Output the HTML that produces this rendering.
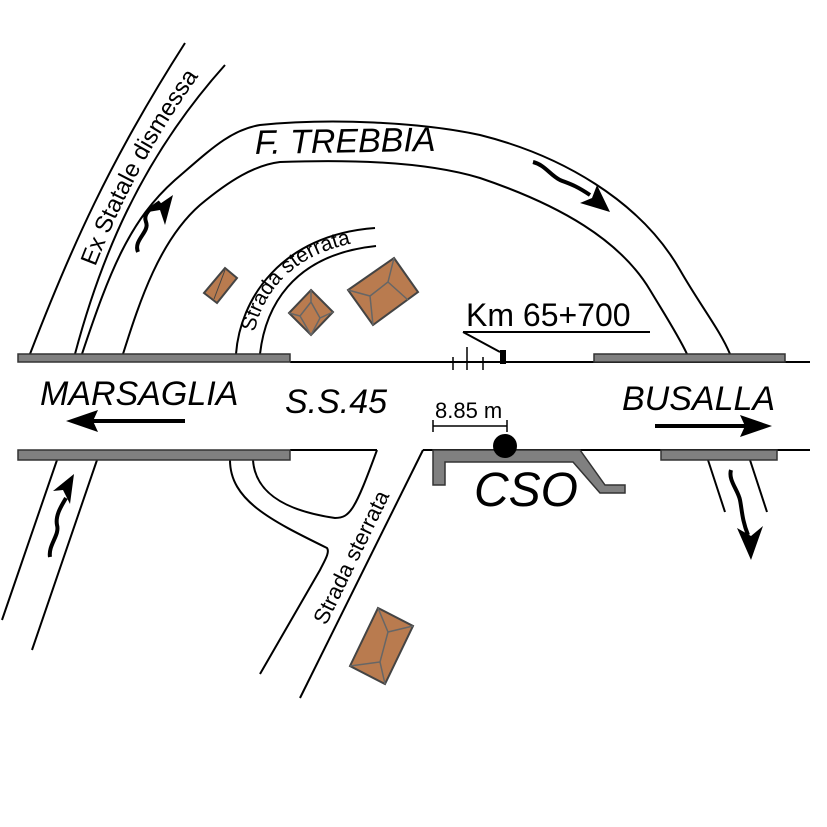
<!DOCTYPE html>
<html><head><meta charset="utf-8"><style>body{margin:0;background:#fff}svg{display:block}</style></head><body>
<svg width="827" height="827" viewBox="0 0 827 827" xmlns="http://www.w3.org/2000/svg" font-family="Liberation Sans, sans-serif">
<defs>
<path id="exs" d="M66,354 C95,255 135,160 212,58"/>
<path id="sst" d="M252,354 C254,300 288,248 376,240"/>
</defs>
<g fill="none" stroke="#000" stroke-width="2">
<path d="M30,354 C70,250 110,160 185,43"/>
<path d="M75,354 C100,260 140,160 225,65"/>
<path d="M82,354 C110,270 130,220 175,180 C210,150 230,130 260,125 C330,118 420,122 480,135 C560,155 640,200 680,270 C700,305 720,330 730,354"/>
<path d="M123,354 C140,300 160,240 200,205 C230,180 255,165 280,162 C340,160 420,160 480,178 C560,205 620,240 650,290 C665,315 678,335 687,354"/>
<path d="M236,354 C240,300 280,235 375,228"/>
<path d="M260,354 C265,310 290,255 376,246"/>
<path d="M290,362 H810"/>
<path d="M290,450 H377 M423,450 H810"/>
<path d="M230,460 C230,500 270,520 327,548 C330,552 325,560 320,570 L260,674"/>
<path d="M253,460 C255,490 280,510 335,518 C350,518 355,510 377,450"/>
<path d="M423,450 L300,698"/>
<path d="M57,460 L2,620"/>
<path d="M97,460 L32,650"/>
<path d="M708,460 L725,512"/>
<path d="M750,460 L767,512"/>
<path d="M463,332 H650 M463,332 L500,352"/>
<path d="M453,357 V370 M467,347 V370 M483,357 V370" stroke-width="1.5"/>
<path d="M433,426 H507 M433,420 V432 M507,420 V432" stroke-width="1.5"/>
</g>
<rect x="500" y="350" width="6" height="14" fill="#000"/>
<g fill="#808080" stroke="#333" stroke-width="1.5">
<rect x="18" y="354" width="272" height="8"/>
<rect x="594" y="354" width="191" height="8"/>
<rect x="18" y="450" width="272" height="10"/>
<rect x="661" y="450" width="116" height="10"/>
<path d="M433,450 H580 L605,485 H625 V493 H600 L573,462 H445 V485 H433 Z"/>
</g>
<circle cx="505" cy="446" r="12" fill="#000"/>
<g fill="#000">
<path d="M185,421 H85" stroke="#000" stroke-width="4"/>
<polygon points="66,421 98,410 93,421 98,432"/>
<path d="M655,426 H750" stroke="#000" stroke-width="4"/>
<polygon points="772,426 740,415 745,426 740,437"/>
<path d="M138,252 C133,240 150,232 146,222 C142,212 155,206 160,202" stroke="#000" stroke-width="4" fill="none"/>
<polygon points="173,195 148,212 160,210 165,225"/>
<path d="M533,162 C545,165 550,175 560,180 C570,184 575,185 590,195" stroke="#000" stroke-width="4" fill="none"/>
<polygon points="610,212 580,203 592,198 597,185"/>
<path d="M50,557 C48,545 60,535 57,525 C55,515 62,505 66,498" stroke="#000" stroke-width="4" fill="none"/>
<polygon points="74,474 53,491 63,490 70,504"/>
<path d="M731,470 C728,480 738,490 740,500 C742,510 742,520 748,535" stroke="#000" stroke-width="4" fill="none"/>
<polygon points="751,560 737,528 751,536 763,526"/>
</g>
<g fill="#b97b4f" stroke="#444" stroke-width="2">
<polygon points="225,268 237,278 217,303 204,293"/>
<line x1="225" y1="270" x2="214" y2="299" stroke-width="1"/>
<polygon points="311,290 333,312 311,335 289,313"/>
<path d="M311,290 L311,302 L320,318 L311,335 M311,302 L300,316 L289,313 M300,316 L311,335 M320,318 L333,312" fill="none" stroke="#666" stroke-width="1.5"/>
<polygon points="394,258 418,292 373,325 348,290"/>
<path d="M394,258 L388,282 L370,296 L348,290 M388,282 L408,300 M370,296 L373,325" fill="none" stroke="#666" stroke-width="1.5"/>
<polygon points="378,608 413,626 385,684 350,666"/>
<path d="M378,608 L388,632 L380,662 L350,666 M388,632 L413,626 M380,662 L385,684" fill="none" stroke="#666" stroke-width="1.5"/>
</g>
<g fill="#000">
<text x="255" y="154" font-size="34" font-style="italic" transform="rotate(-1 255 154)">F. TREBBIA</text>
<text font-size="24"><textPath href="#exs" startOffset="92">Ex Statale dismessa</textPath></text>
<text font-size="21"><textPath href="#sst" startOffset="22">Strada sterrata</textPath></text>
<text x="326" y="626" font-size="22" transform="rotate(-64 326 626)">Strada sterrata</text>
<text x="466" y="326" font-size="32">Km 65+700</text>
<text x="40" y="405" font-size="34" font-style="italic">MARSAGLIA</text>
<text x="285" y="413" font-size="34" font-style="italic">S.S.45</text>
<text x="622" y="410" font-size="34" font-style="italic">BUSALLA</text>
<text x="435" y="418" font-size="22">8.85 m</text>
<text x="474" y="506" font-size="48" font-style="italic">CSO</text>
</g>
</svg>
</body></html>
